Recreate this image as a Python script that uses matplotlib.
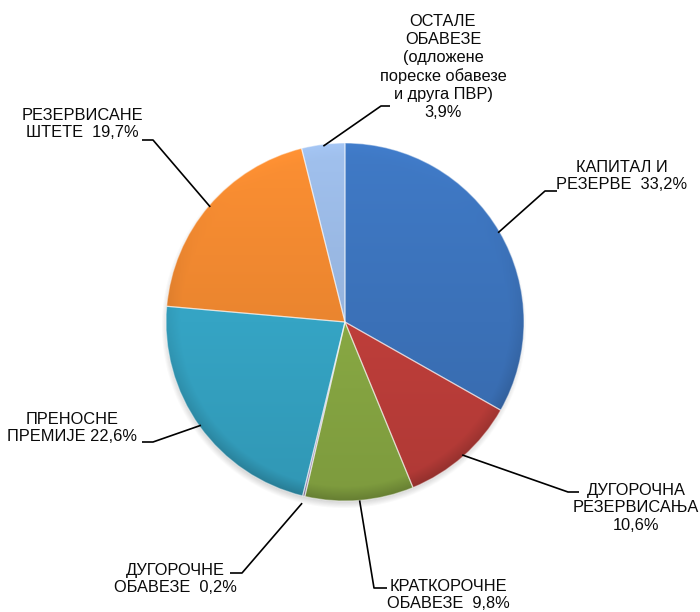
import numpy as np
import matplotlib
matplotlib.use("Agg")
import matplotlib.pyplot as plt
from matplotlib.colors import to_rgb

plt.rcParams['font.family'] = ['Liberation Sans', 'DejaVu Sans']

# структура пасиве
labels = [
    'КАПИТАЛ И\nРЕЗЕРВЕ  33,2%',
    'ДУГОРОЧНА\nРЕЗЕРВИСАЊА\n10,6%',
    'КРАТКОРОЧНЕ\nОБАВЕЗЕ  9,8%',
    'ДУГОРОЧНЕ\nОБАВЕЗЕ  0,2%',
    'ПРЕНОСНЕ\nПРЕМИЈЕ 22,6%',
    'РЕЗЕРВИСАНЕ\nШТЕТЕ  19,7%',
    'ОСТАЛЕ\nОБАВЕЗЕ\n(одложене\nпореске обавезе\nи друга ПВР)\n3,9%',
]
values = [33.2, 10.6, 9.8, 0.2, 22.6, 19.7, 3.9]
colors = ['#3B71B8', '#BE3E3A', '#88A843', '#9C8AB8', '#35A4C4', '#EA852F', '#95B3DD']

W, H = 700, 612

# положај натписа (центар блока) и кратке хоризонталне цртице
text_pos = [(622, 176), (636, 508), (448, 595), (175, 579), (72, 428), (82, 124), (443, 67)]
leader_start = [(557, 191), (579, 492), (387, 588), (230, 573), (142, 442), (142, 140), (390, 106)]
leader_elbow = [(545, 191), (568, 492), (374, 588), (242, 573), (153, 442), (153, 140), (381, 106)]
anchor_r = [0.99, 0.99, 1.0, 1.04, 0.99, 0.99, 0.99]

fig = plt.figure(figsize=(7, 6.12), dpi=100)
ax = fig.add_axes([0, 0, 1, 1])

cx, cy, R = 345, H - 322, 179

wedges, _ = ax.pie(values, colors=colors, startangle=90, counterclock=False,
                   center=(cx, cy), radius=R,
                   wedgeprops=dict(edgecolor=(1, 1, 1, 0.45), linewidth=0.9))

# сенка испод пите
xs = np.arange(cx - R - 20, cx + R + 20)
ys = np.arange(cy - R - 20, cy + R + 20)
X, Y = np.meshgrid(xs, ys)
ds = np.hypot(X - cx + 1, Y - cy + 4)
sh = np.zeros(X.shape + (4,))
sh[..., :3] = 0.4
sh[..., 3] = 0.3 * np.clip((R + 4 - ds) / 8, 0, 1)
ax.imshow(sh, extent=[xs[0], xs[-1], ys[0], ys[-1]], origin='lower', zorder=0.5,
          interpolation='bilinear')

# градијент у исечцима
t = (Y - cy) / R
d = np.hypot(X - cx, Y - cy) / R
rim = np.clip((d - 0.92) / 0.08, 0, 1)
shade = 1 + 0.08 * t + rim * (0.10 * t - 0.07)
for w, c in zip(wedges, colors):
    img = np.clip(np.array(to_rgb(c))[None, None, :] * shade[..., None], 0, 1)
    im = ax.imshow(img, extent=[xs[0], xs[-1], ys[0], ys[-1]], origin='lower',
                   zorder=1, interpolation='bilinear')
    im.set_clip_path(w)
    w.set_facecolor('none')
    w.set_zorder(2)

# натписи и линије
for w, lab, (tx, ty), (sx, sy), (ex, ey), ar in zip(
        wedges, labels, text_pos, leader_start, leader_elbow, anchor_r):
    mid = np.deg2rad((w.theta1 + w.theta2) / 2)
    axp = cx + ar * R * np.cos(mid)
    ayp = cy + ar * R * np.sin(mid)
    ax.plot([sx, ex, axp], [H - sy, H - ey, ayp], color='black', lw=1.2,
            solid_capstyle='butt', zorder=3)
    ax.text(tx, H - ty, lab, ha='center', va='center', fontsize=11.8,
            linespacing=1.24, color='#0a0a0a')

ax.set_xlim(0, W)
ax.set_ylim(0, H)
ax.axis('off')

fig.savefig('out.png', dpi=100, facecolor='white')
